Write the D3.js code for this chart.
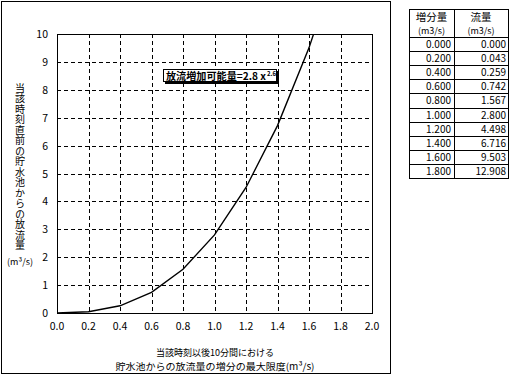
<!DOCTYPE html>
<html>
<head>
<meta charset="utf-8">
<script src="https://cdn.jsdelivr.net/npm/d3@7"></script>
<style>
  body { margin: 0; background: #fff; }
  svg text { font-family: "Noto Sans CJK JP", sans-serif; fill: #000; }
</style>
</head>
<body>
<div id="chart"></div>
<script>
// increment (m3/s) and flow (m3/s) from the table
const increments = [0.0, 0.2, 0.4, 0.6, 0.8, 1.0, 1.2, 1.4, 1.6, 1.8];
const flows = [0.000, 0.043, 0.259, 0.742, 1.567, 2.800, 4.498, 6.716, 9.503, 12.908];
const xTicks = [0.0, 0.2, 0.4, 0.6, 0.8, 1.0, 1.2, 1.4, 1.6, 1.8, 2.0];
const yTicks = [0, 1, 2, 3, 4, 5, 6, 7, 8, 9, 10];
const tableHeader = [["増分量", "(m3/s)"], ["流量", "(m3/s)"]];
const yTitle = "当該時刻直前の貯水池からの放流量";
const xTitle = ["当該時刻以後10分間における", "貯水池からの放流量の増分の最大限度(m³/s)"];

const W = 509, H = 378;
const svg = d3.select("#chart").append("svg")
    .attr("width", W).attr("height", H);

// outer chart frame
svg.append("rect")
    .attr("x", 1.5).attr("y", 1.5)
    .attr("width", 389).attr("height", 372)
    .attr("fill", "none").attr("stroke", "#000");

const plot = { left: 57, top: 34, right: 372, bottom: 313 };

const x = d3.scaleLinear().domain([0, 2]).range([plot.left, plot.right]);
const y = d3.scaleLinear().domain([0, 10]).range([plot.bottom, plot.top]);

// grid
svg.append("g").selectAll("line")
    .data(xTicks.slice(1, -1))
    .enter().append("line")
    .attr("x1", d => Math.round(x(d)) + 0.5).attr("x2", d => Math.round(x(d)) + 0.5)
    .attr("y1", plot.top).attr("y2", plot.bottom)
    .attr("stroke", "#000").attr("stroke-dasharray", "4,3");

svg.append("g").selectAll("line")
    .data(yTicks.slice(1, -1))
    .enter().append("line")
    .attr("y1", d => Math.round(y(d)) + 0.5).attr("y2", d => Math.round(y(d)) + 0.5)
    .attr("x1", plot.left).attr("x2", plot.right)
    .attr("stroke", "#000").attr("stroke-dasharray", "4,3");

// plot border
svg.append("rect")
    .attr("x", plot.left + 0.5).attr("y", plot.top + 0.5)
    .attr("width", plot.right - plot.left).attr("height", plot.bottom - plot.top)
    .attr("fill", "none").attr("stroke", "#000");

// tick labels
svg.append("g").selectAll("text")
    .data(xTicks)
    .enter().append("text")
    .attr("x", d => x(d)).attr("y", plot.bottom + 17)
    .attr("text-anchor", "middle")
    .attr("font-size", 10.5)
    .text(d => d3.format(".1f")(d));

svg.append("g").selectAll("text")
    .data(yTicks)
    .enter().append("text")
    .attr("x", 48).attr("y", d => y(d) + 4)
    .attr("text-anchor", "end")
    .attr("font-size", 10.5)
    .text(d => d);

// curve
svg.append("clipPath").attr("id", "clip")
    .append("rect")
    .attr("x", plot.left).attr("y", plot.top)
    .attr("width", plot.right - plot.left).attr("height", plot.bottom - plot.top);

const pts = increments.map((v, i) => [v, flows[i]]);
const line = d3.line().x(d => x(d[0])).y(d => y(d[1]));
svg.append("path")
    .datum(pts)
    .attr("d", line)
    .attr("clip-path", "url(#clip)")
    .attr("fill", "none")
    .attr("stroke", "#000")
    .attr("stroke-width", 1.4);

// formula label box
const lb = svg.append("g");
lb.append("rect").attr("x", 165).attr("y", 71).attr("width", 114).attr("height", 13).attr("fill", "#000");
lb.append("rect").attr("x", 163.5).attr("y", 69.5).attr("width", 113).attr("height", 12)
    .attr("fill", "#fff").attr("stroke", "#000");
lb.append("text")
    .attr("x", 166).attr("y", 80)
    .attr("font-size", 10).attr("font-weight", "bold")
    .attr("textLength", 100).attr("lengthAdjust", "spacingAndGlyphs")
    .text("放流増加可能量=2.8 x");
lb.append("text")
    .attr("x", 267).attr("y", 76)
    .attr("font-size", 6).attr("font-weight", "bold")
    .text("2.6");

// y axis title (vertical, one text)
svg.append("text")
    .attr("x", 20).attr("y", 83)
    .style("writing-mode", "vertical-rl")
    .style("letter-spacing", "0.5px")
    .attr("font-size", 10)
    .text(yTitle);
svg.append("text")
    .attr("x", 20).attr("y", 265)
    .attr("text-anchor", "middle")
    .attr("font-size", 9)
    .text("(m³/s)");

// x axis title
svg.append("g").selectAll("text")
    .data(xTitle)
    .enter().append("text")
    .attr("x", 215).attr("y", (d, i) => 356 + i * 14)
    .attr("text-anchor", "middle")
    .attr("font-size", 9.5)
    .attr("textLength", (d, i) => i === 0 ? 118 : 199)
    .attr("lengthAdjust", "spacingAndGlyphs")
    .text(d => d);

// table
const tbl = { left: 409, mid: 454, right: 508, top: 9, headH: 28, rowH: 14.1 };
const tg = svg.append("g");
tg.append("rect")
    .attr("x", tbl.left + 0.5).attr("y", tbl.top + 0.5)
    .attr("width", tbl.right - tbl.left).attr("height", tbl.headH + tbl.rowH * increments.length)
    .attr("fill", "none").attr("stroke", "#000");
tg.append("line")
    .attr("x1", tbl.mid + 0.5).attr("x2", tbl.mid + 0.5)
    .attr("y1", tbl.top).attr("y2", tbl.top + tbl.headH + tbl.rowH * increments.length)
    .attr("stroke", "#000");
tg.selectAll(".hl")
    .data(d3.range(increments.length))
    .enter().append("line")
    .attr("x1", tbl.left).attr("x2", tbl.right)
    .attr("y1", i => Math.round(tbl.top + tbl.headH + i * tbl.rowH) + 0.5)
    .attr("y2", i => Math.round(tbl.top + tbl.headH + i * tbl.rowH) + 0.5)
    .attr("stroke", "#000");

[tbl.left, tbl.mid].forEach((cx, c) => {
  const cw = (c === 0 ? tbl.mid : tbl.right) - cx;
  tg.append("text")
      .attr("x", cx + cw / 2).attr("y", tbl.top + 12)
      .attr("text-anchor", "middle").attr("font-size", 10.5)
      .text(tableHeader[c][0]);
  tg.append("text")
      .attr("x", cx + cw / 2).attr("y", tbl.top + 25)
      .attr("text-anchor", "middle").attr("font-size", 9)
      .text(tableHeader[c][1]);
});

const fmt = d3.format(".3f");
tg.selectAll(".c1")
    .data(increments)
    .enter().append("text")
    .attr("x", tbl.mid - 3)
    .attr("y", (d, i) => tbl.top + tbl.headH + i * tbl.rowH + 11)
    .attr("text-anchor", "end").attr("font-size", 10)
    .attr("font-family", "DejaVu Sans Mono, monospace")
    .text(d => fmt(d));
tg.selectAll(".c2")
    .data(flows)
    .enter().append("text")
    .attr("x", tbl.right - 2)
    .attr("y", (d, i) => tbl.top + tbl.headH + i * tbl.rowH + 11)
    .attr("text-anchor", "end").attr("font-size", 10)
    .attr("font-family", "DejaVu Sans Mono, monospace")
    .text(d => fmt(d));
</script>
</body>
</html>
